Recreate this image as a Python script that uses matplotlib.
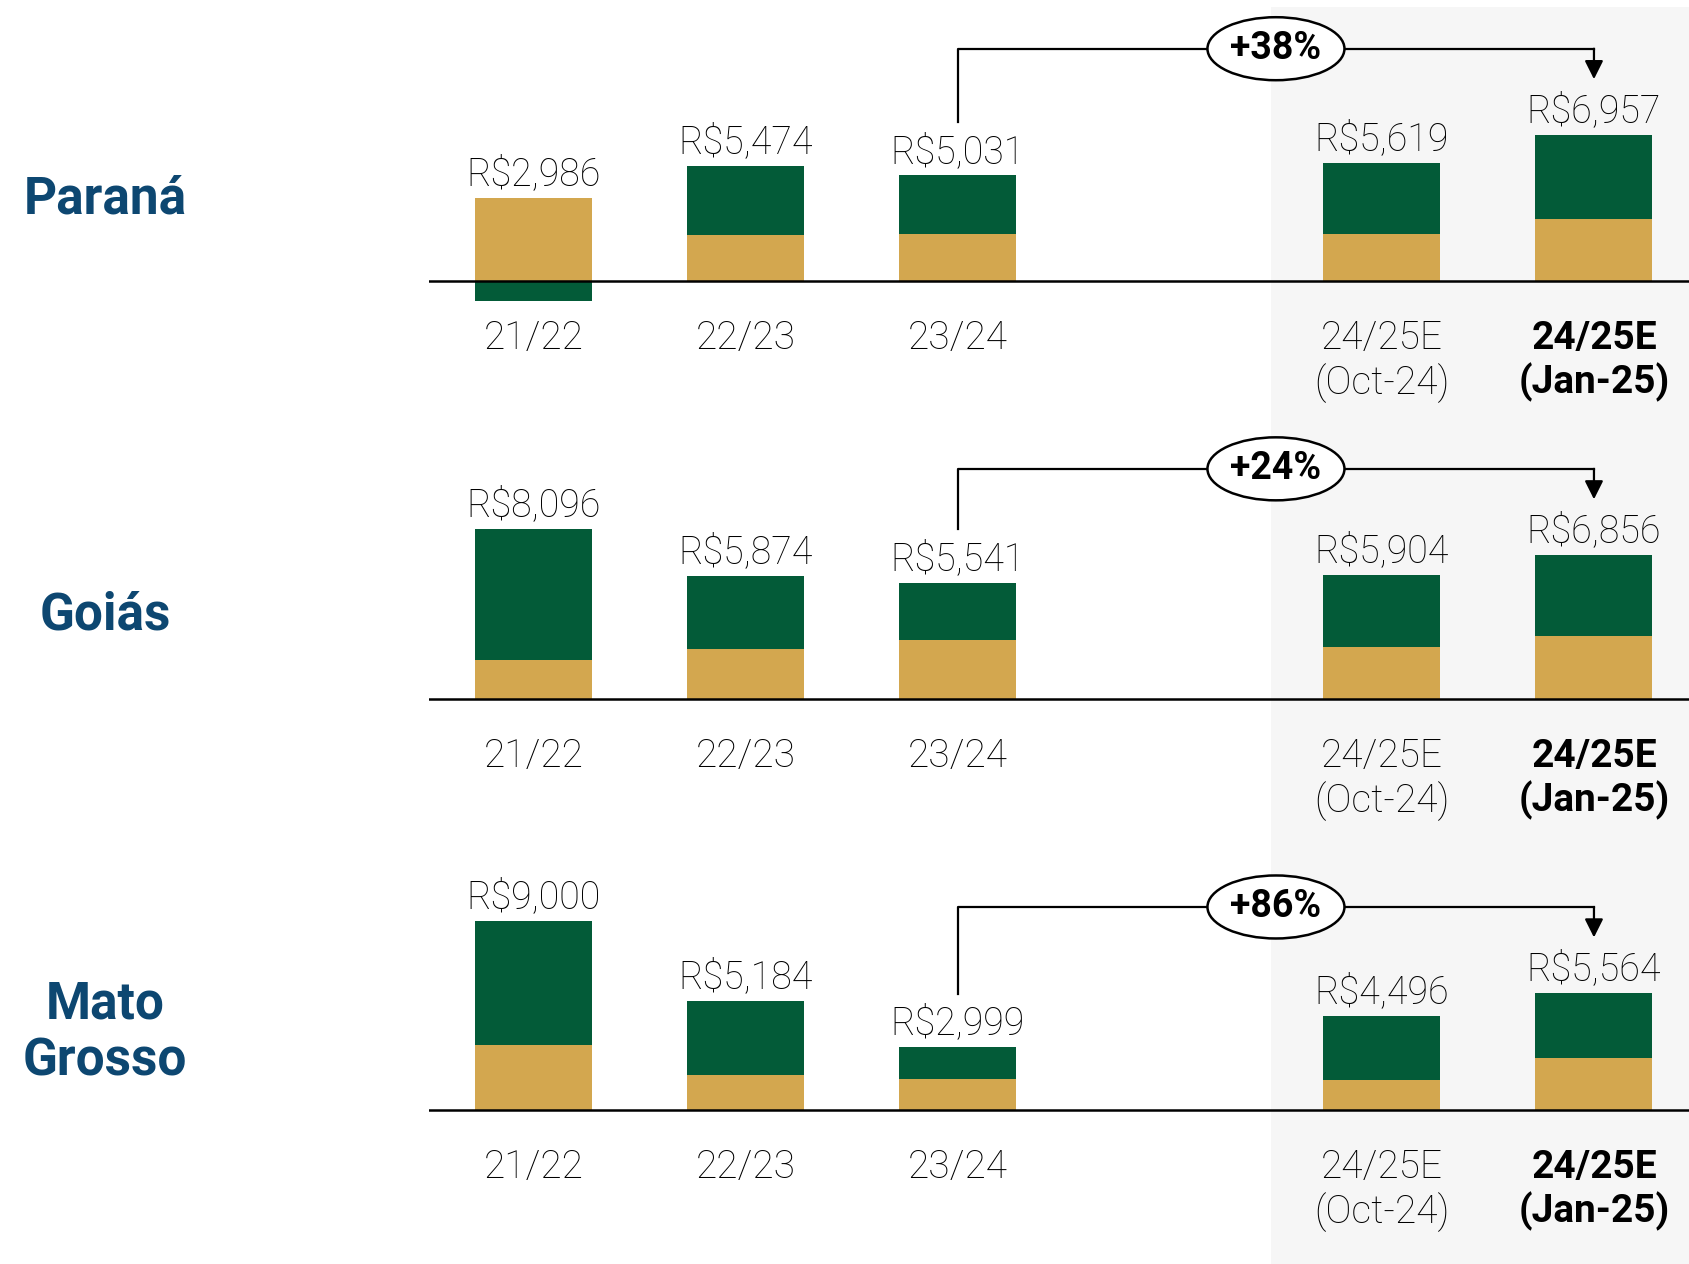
import numpy as np
import matplotlib.pyplot as plt
from matplotlib.patches import Ellipse, Rectangle

# data (R$)
categories = ['21/22', '22/23', '23/24', '24/25E\n(Oct-24)', '24/25E\n(Jan-25)']
regions = ['Paraná', 'Goiás', 'Mato\nGrosso']

parana_total = [2986, 5474, 5031, 5619, 6957]
parana_gold = [3960, 2180, 2230, 2230, 2950]
parana_green = [-974, 3294, 2801, 3389, 4007]

goias_total = [8096, 5874, 5541, 5904, 6856]
goias_gold = [1850, 2360, 2830, 2470, 2980]
goias_green = [6246, 3514, 2711, 3434, 3876]

mt_total = [9000, 5184, 2999, 4496, 5564]
mt_gold = [3090, 1650, 1490, 1440, 2470]
mt_green = [5910, 3534, 1509, 3056, 3094]

growth = ['+38%', '+24%', '+86%']

GOLD = '#D3A74F'
GREEN = '#035B38'
BLUE = '#0D4771'

plt.rcParams['font.family'] = ['Roboto', 'DejaVu Sans']

W, H = 1690, 1264
fig = plt.figure(figsize=(W / 100, H / 100), dpi=100)

# light grey band behind the estimates
fig.patches.append(Rectangle((1271 / W, 0), 1 - 1271 / W, 1 - 7 / H,
                             transform=fig.transFigure, facecolor='#F6F6F6',
                             edgecolor='none', zorder=-5))

xpos = np.array([0, 1, 2, 4, 5])
vpp = 47.6  # value per pixel
ylo, yhi = -2500, 12500
ax_h = (yhi - ylo) / vpp
baselines = [983, 565, 154]  # px from bottom
label_y = [200, 616, 1033]   # region label centres, px from top

panels = [(parana_total, parana_gold, parana_green),
          (goias_total, goias_gold, goias_green),
          (mt_total, mt_gold, mt_green)]

for i, (tot, gold, green) in enumerate(panels):
    bottom_px = baselines[i] + ylo / vpp
    ax = fig.add_axes([429 / W, bottom_px / H, 1 - 429 / W, ax_h / H])
    ax.set_xlim(-0.495, 5.453)
    ax.set_ylim(ylo, yhi)
    ax.axis('off')
    ax.patch.set_alpha(0)

    gold = np.array(gold)
    green = np.array(green)
    ax.bar(xpos, gold, width=0.552, color=GOLD, zorder=2)
    green_bottom = np.where(green >= 0, gold, 0)
    ax.bar(xpos, green, width=0.552, bottom=green_bottom, color=GREEN, zorder=2)
    ax.axhline(0, color='black', lw=1.8, zorder=3)

    tops = gold + np.clip(green, 0, None)
    for x, t, v in zip(xpos, tops, tot):
        ax.annotate('R$' + format(v, ','), (x, t), xytext=(0, 9),
                    textcoords='offset points', ha='center', va='baseline',
                    fontsize=27, fontweight='light', color='black')

    for j, (x, c) in enumerate(zip(xpos, categories)):
        ax.annotate(c, (x, 0), xytext=(0, -28), textcoords='offset points',
                    ha='center', va='top', fontsize=28, linespacing=1.17,
                    fontweight='bold' if j == 4 else 'light', color='black')

    # growth bracket from 23/24 to 24/25E (Jan-25)
    y_br = tot[4] + 4100
    ax.plot([2, 2, 5], [tot[2] + 2530, y_br, y_br], color='black', lw=1.6,
            clip_on=False, zorder=4)
    ax.annotate('', xy=(5, tot[4] + 2650), xytext=(5, y_br),
                arrowprops=dict(arrowstyle='-|>', color='black', lw=1.6,
                                mutation_scale=28, shrinkA=0, shrinkB=0),
                annotation_clip=False, zorder=4)
    ax.add_patch(Ellipse((3.5, y_br), 137 / 212, 63 * vpp, facecolor='white',
                         edgecolor='black', lw=1.8, clip_on=False, zorder=5))
    ax.text(3.5, y_br, growth[i], ha='center', va='center', fontsize=27,
            fontweight='bold', zorder=6, clip_on=False)

    fig.text(105 / W, 1 - label_y[i] / H, regions[i], ha='center', va='center',
             fontsize=37, fontweight='bold', color=BLUE, linespacing=1.2)

fig.savefig('out.png', dpi=100)
